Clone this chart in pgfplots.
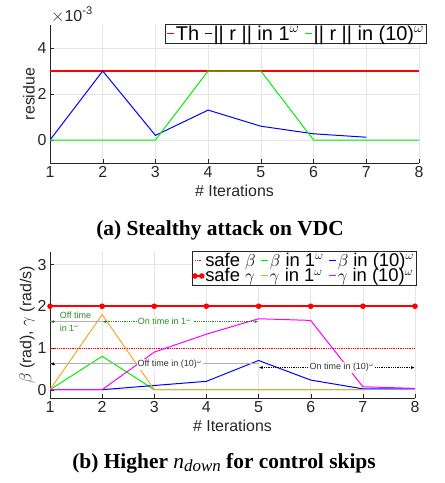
\documentclass[border=0pt]{standalone}
\usepackage{fontspec}
\setmainfont{Liberation Sans}
\newfontfamily\capfont{Liberation Serif}
\usepackage{pgfplots}
\pgfplotsset{compat=1.18}
\usetikzlibrary{arrows.meta}
\definecolor{mblue}{RGB}{0,0,255}
\definecolor{mgreen}{RGB}{0,240,0}
\definecolor{morange}{RGB}{237,170,40}
\definecolor{mmag}{RGB}{255,0,255}
\definecolor{dgreen}{RGB}{40,140,40}
\definecolor{axgray}{RGB}{38,38,38}
\pgfplotsset{
  mat/.style={scale only axis, xmin=1, xmax=8, xtick={1,...,8},
    axis x line*=bottom, axis y line*=left, tick align=inside,
    grid=major, grid style={black!10, line width=0.6pt},
    axis line style={axgray, line width=0.7pt}, tick style={axgray},
    /pgf/number format/assume math mode=true,
    ticklabel style={font=\fontsize{16}{18}\selectfont, text=axgray},
    label style={font=\fontsize{16}{18}\selectfont, text=axgray},
    xlabel={\# Iterations},
    legend cell align=left,
    legend image code/.code={\draw[mark repeat=2,mark phase=1,##1] plot coordinates {(0cm,0cm)(0.12cm,0cm)(0.24cm,0cm)};},
    legend style={draw=axgray, inner sep=1pt, row sep=0pt,
      nodes={inner ysep=0.5pt, inner xsep=1pt},
      /tikz/every odd column/.style={column sep=0.5pt},
      /tikz/every even column/.style={column sep=4pt}},
  },
  dl/.style={line width=1pt, no markers}
}
\begin{document}
\begin{tikzpicture}
\path[use as bounding box] (0,0) rectangle (445bp,-483bp);
\begin{axis}[mat, at={(50bp,-163bp)}, anchor=south west, width=369bp, height=138bp,
  ymin=-1, ymax=5, ytick={0,2,4},
  ylabel={residue}, ylabel style={yshift=-4pt},
  legend columns=3,
  legend style={at={(rel axis cs:1,1)}, anchor=north east, xshift=7bp, yshift=1bp, font=\fontsize{20}{22}\selectfont}]
\addplot[red, line width=1.1pt, no markers] coordinates {(1,3)(2,3)(3,3)(4,3)(5,3)(6,3)(7,3)(8,3)};
\addlegendentry{Th}
\addplot[dl, color=mblue] coordinates {(1,0)(2,3)(3,0.2)(4,1.3)(5,0.6)(6,0.27)(7,0.12)};
\addlegendentry{|| r || in 1$^\omega$}
\addplot[dl, color=mgreen] coordinates {(1,0)(2,0)(3,0)(4,3)(5,3)(6,0)(7,0)(8,0)};
\addlegendentry{|| r || in (10)$^\omega$}
\end{axis}
\node[anchor=base west, inner sep=0pt, font=\fontsize{16}{18}\selectfont, text=axgray] at (51bp,-21bp) {$\times$10\textsuperscript{-3}};
\node[font=\capfont\bfseries\fontsize{21.5}{23}\selectfont] at (220bp,-230bp) {(a) Stealthy attack on VDC};
\begin{axis}[mat, at={(50bp,-398bp)}, anchor=south west, width=365bp, height=146bp,
  ymin=-0.2, ymax=3.3, ytick={0,1,2,3},
  ylabel={$\beta$ (rad), $\gamma$ (rad/s)}, ylabel style={yshift=-4pt},
  legend columns=3,
  legend style={at={(rel axis cs:1,1)}, anchor=north east, xshift=1bp, yshift=1bp, font=\fontsize{18.5}{21}\selectfont}]
\addplot[red, densely dotted, line width=0.8pt, no markers] coordinates {(1,1)(2,1)(3,1)(4,1)(5,1)(6,1)(7,1)(8,1)};
\addlegendentry{safe $\beta$}
\addplot[dl, color=mgreen] coordinates {(1,0)(2,0.8)(3,0)(4,0)(5,0)(6,0)(7,0)};
\addlegendentry{$\beta$ in 1$^\omega$}
\addplot[dl, color=mblue] coordinates {(1,0)(2,0)(3,0.1)(4,0.2)(5,0.7)(6,0.23)(7,0.02)(8,0.02)};
\addlegendentry{$\beta$ in (10)$^\omega$}
\addplot[red, line width=1.5pt, mark=*, mark size=2pt] coordinates {(1,2)(2,2)(3,2)(4,2)(5,2)(6,2)(7,2)(8,2)};
\addlegendentry{safe $\gamma$}
\addplot[dl, color=morange] coordinates {(1,0)(2,1.8)(3,0)(4,0)(5,0)(6,0)(7,0)};
\addlegendentry{$\gamma$ in 1$^\omega$}
\addplot[dl, color=mmag] coordinates {(1,0)(2,0)(3,0.9)(4,1.33)(5,1.7)(6,1.66)(7,0.07)(8,0.03)};
\addlegendentry{$\gamma$ in (10)$^\omega$}
% annotations
\draw[gray!60, line width=0.8pt] (axis cs:1,1.63) -- (axis cs:2,1.63);
\draw[dgreen, -{Latex[length=4pt]}] (axis cs:1.1,1.63) -- (axis cs:1,1.63);
\node[font=\fontsize{9}{13}\selectfont, text=dgreen, align=left, anchor=west] at (axis cs:1.12,1.63) {Off time\\in 1$^\omega$};
\draw[dgreen, densely dotted, line width=0.8pt, {Latex[length=4pt]}-{Latex[length=4pt]}] (axis cs:2,1.63) -- (axis cs:5,1.63);
\node[font=\fontsize{9}{11}\selectfont, text=dgreen, fill=white, inner sep=1pt] at (axis cs:3.2,1.63) {On time in 1$^\omega$};
\draw[gray!60, line width=1pt] (axis cs:1,0.62) -- (axis cs:5,0.62);
\draw[black, -{Latex[length=4pt]}] (axis cs:1.1,0.62) -- (axis cs:1,0.62);
\node[font=\fontsize{9}{11}\selectfont, text=black!80, fill=white, inner sep=1pt] at (axis cs:3.3,0.6) {Off time in (10)$^\omega$};
\draw[black, densely dotted, line width=0.8pt, {Latex[length=4pt]}-{Latex[length=4pt]}] (axis cs:5,0.53) -- (axis cs:8,0.53);
\node[font=\fontsize{9}{11}\selectfont, text=black!80, fill=white, inner sep=1pt] at (axis cs:6.6,0.53) {On time in (10)$^\omega$};
\end{axis}
\node[font=\capfont\bfseries\fontsize{21.5}{23}\selectfont] at (224bp,-463bp) {(b) Higher \textit{\mdseries n}\raisebox{-0.35ex}{\fontsize{17}{17}\selectfont\textit{\mdseries down}} for control skips};
\end{tikzpicture}
\end{document}
